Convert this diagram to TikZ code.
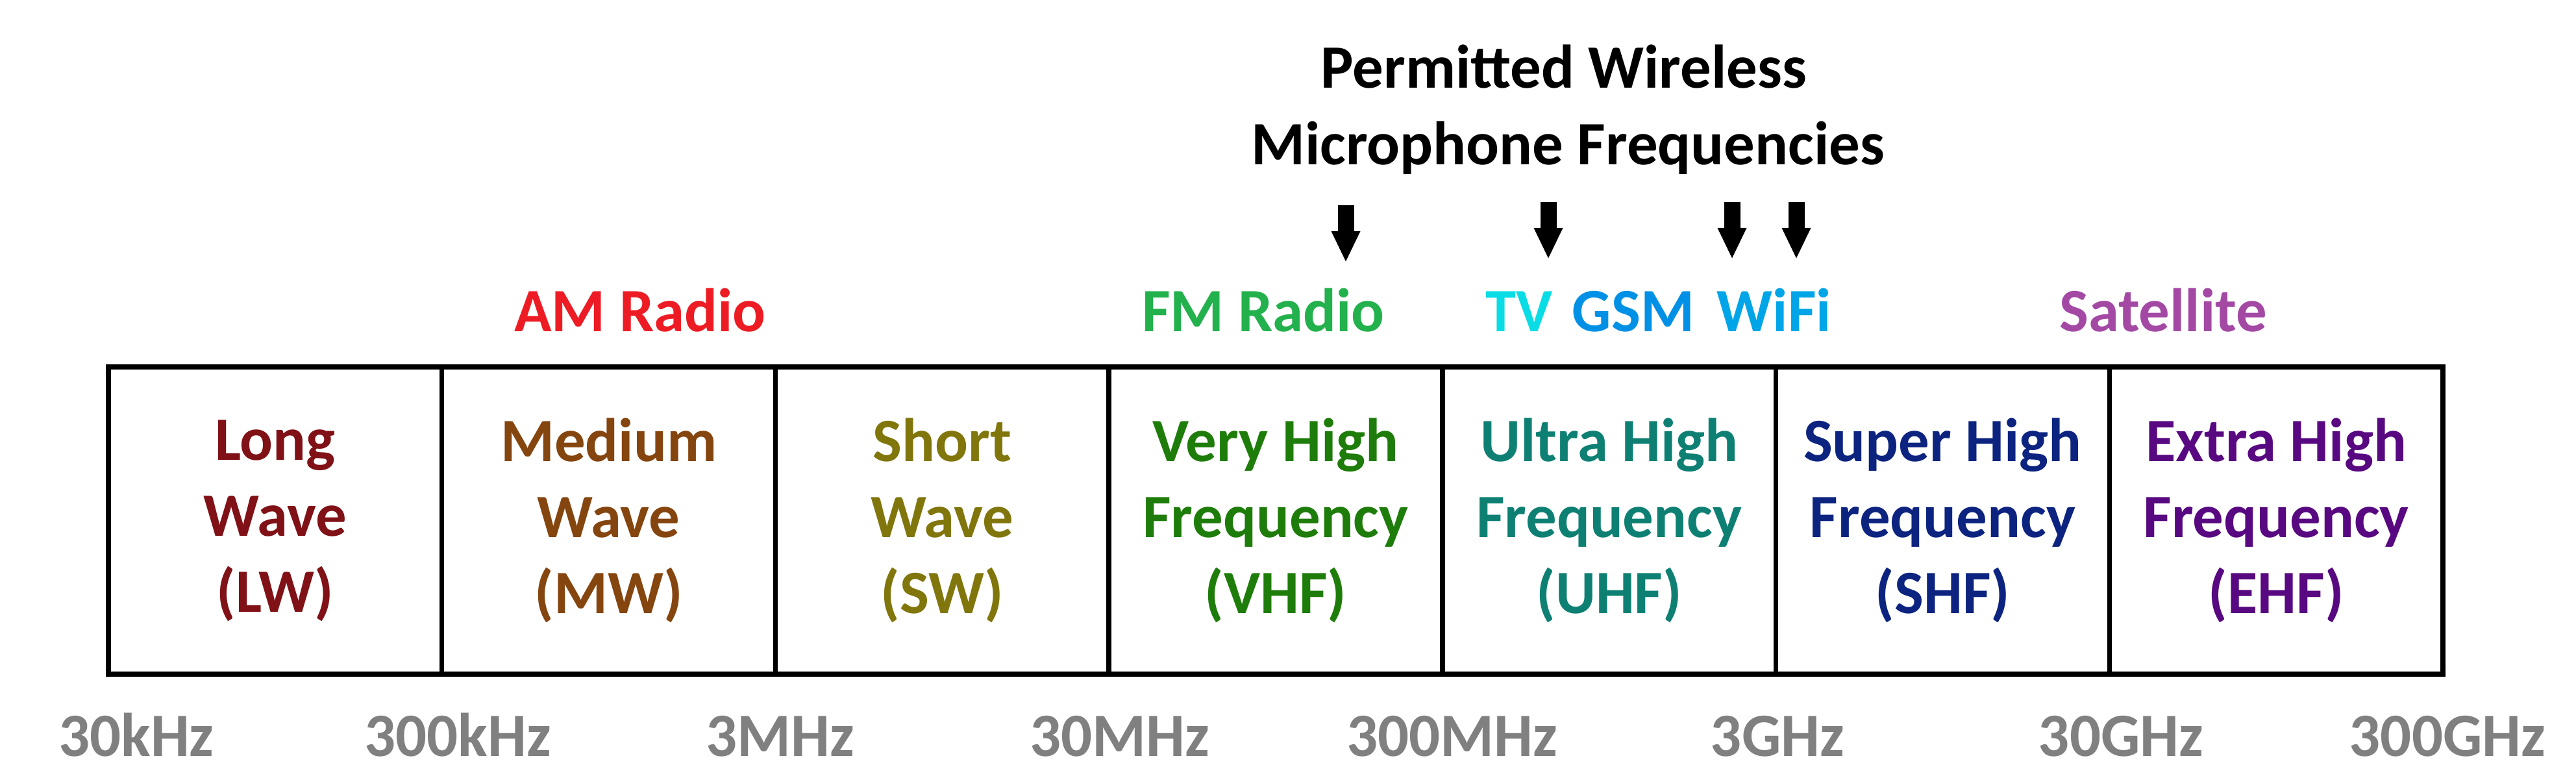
\documentclass[tikz,border=0pt]{standalone}
\usepackage{fontspec}
\setmainfont{Carlito}
\usepackage{tikz}
\usetikzlibrary{arrows.meta}
\definecolor{lwred}{RGB}{128,17,22}
\definecolor{mwbrown}{RGB}{133,69,14}
\definecolor{swolive}{RGB}{128,118,12}
\definecolor{vhfgreen}{RGB}{30,125,10}
\definecolor{uhfteal}{RGB}{14,128,115}
\definecolor{shfnavy}{RGB}{12,36,128}
\definecolor{ehfpurple}{RGB}{88,8,128}
\definecolor{amred}{RGB}{237,28,36}
\definecolor{fmgreen}{RGB}{34,177,76}
\definecolor{tvcyan}{RGB}{10,220,230}
\definecolor{gsmblue}{RGB}{0,145,230}
\definecolor{wifiblue}{RGB}{0,165,232}
\definecolor{satpurple}{RGB}{163,73,164}
\definecolor{freqgray}{RGB}{128,128,128}
\newcommand{\bandfont}{\fontsize{27}{33.3}\selectfont\bfseries}

\begin{document}
\begin{tikzpicture}[
 band/.style={draw=black, line width=2.1pt, minimum width=5.137cm, minimum height=4.73cm, align=center, inner sep=0pt, font=\bandfont},
 freq/.style={anchor=base, text=freqgray, font=\bandfont},
 use/.style={anchor=base, font=\bandfont},
 micarrow/.style={line width=0.25cm, -{Triangle[length=0.48cm,width=0.41cm]}}]
\useasboundingbox (0,0) rectangle (39.68,12);
\node[use] (title1) at (24.09,10.64) {Permitted Wireless};
\node[use] (title2) at (24.15,9.46) {Microphone Frequencies};
\coordinate (a1) at (20.73,8.84); \coordinate (t1) at (20.73,7.96);
\coordinate (a2) at (23.85,8.89); \coordinate (t2) at (23.85,8.01);
\coordinate (a3) at (26.68,8.89); \coordinate (t3) at (26.68,8.01);
\coordinate (a4) at (27.67,8.89); \coordinate (t4) at (27.67,8.01);
\draw[micarrow] (a1)--(t1);
\draw[micarrow] (a2)--(t2);
\draw[micarrow] (a3)--(t3);
\draw[micarrow] (a4)--(t4);
\node[use, text=amred] (am) at (9.86,6.89) {AM Radio};
\node[use, text=fmgreen] (fm) at (19.46,6.89) {FM Radio};
\node[use, text=tvcyan] (tv) at (23.40,6.89) {TV};
\node[use, text=gsmblue] (gsm) at (25.16,6.89) {GSM};
\node[use, text=wifiblue] (wifi) at (27.33,6.89) {WiFi};
\node[use, text=satpurple] (sat) at (33.32,6.89) {Satellite};
\node[band, text=lwred] (lw) at (4.239,3.985) {Long\\Wave\\(LW)};
\node[band, text=mwbrown] (mw) at (9.376,3.985) {Medium\\Wave\\(MW)};
\node[band, text=swolive] (sw) at (14.513,3.985) {Short\\Wave\\(SW)};
\node[band, text=vhfgreen] (vhf) at (19.650,3.985) {Very High\\Frequency\\(VHF)};
\node[band, text=uhfteal] (uhf) at (24.787,3.985) {Ultra High\\Frequency\\(UHF)};
\node[band, text=shfnavy] (shf) at (29.924,3.985) {Super High\\Frequency\\(SHF)};
\node[band, text=ehfpurple] (ehf) at (35.061,3.985) {Extra High\\Frequency\\(EHF)};
\node[freq] (f1) at (2.10,0.36) {30kHz};
\node[freq] (f2) at (7.05,0.36) {300kHz};
\node[freq] (f3) at (12.02,0.36) {3MHz};
\node[freq] (f4) at (17.25,0.36) {30MHz};
\node[freq] (f5) at (22.37,0.36) {300MHz};
\node[freq] (f6) at (27.38,0.36) {3GHz};
\node[freq] (f7) at (32.67,0.36) {30GHz};
\node[freq] (f8) at (37.70,0.36) {300GHz};
\end{tikzpicture}
\end{document}
